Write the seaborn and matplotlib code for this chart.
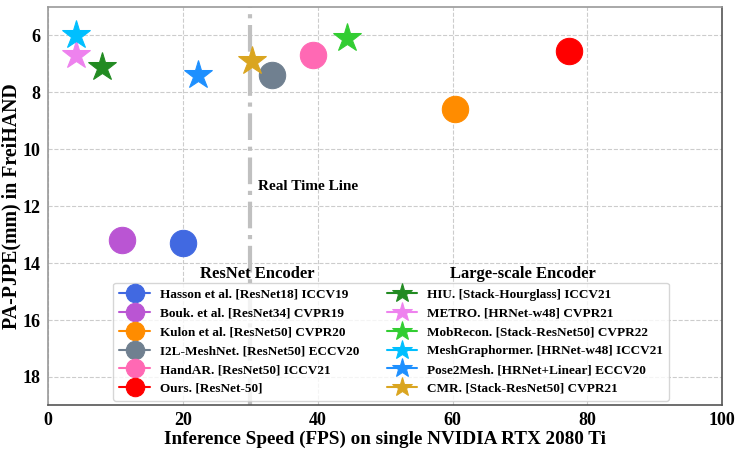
import matplotlib
matplotlib.use("Agg")
import matplotlib.pyplot as plt
import seaborn as sns

names = ["Hasson et al. [ResNet18] ICCV19", "Bouk. et al. [ResNet34] CVPR19",
         "Kulon et al. [ResNet50] CVPR20", "I2L-MeshNet. [ResNet50] ECCV20",
         "HandAR. [ResNet50] ICCV21", "Ours. [ResNet-50]",
         "HIU. [Stack-Hourglass] ICCV21", "METRO. [HRNet-w48] CVPR21",
         "MobRecon. [Stack-ResNet50] CVPR22", "MeshGraphormer. [HRNet-w48] ICCV21",
         "Pose2Mesh. [HRNet+Linear] ECCV20", "CMR. [Stack-ResNet50] CVPR21"]
fps = [20, 11, 60.4, 33.2, 39.3, 77.3, 8, 4.2, 44.3, 4.2, 22.3, 30.3]
pa_pjpe = [13.3, 13.2, 8.6, 7.4, 6.7, 6.55, 7.1, 6.7, 6.1, 6.0, 7.4, 6.9]
colors = ["royalblue", "mediumorchid", "darkorange", "slategray", "hotpink", "red",
          "forestgreen", "violet", "limegreen", "deepskyblue", "dodgerblue", "goldenrod"]
markers = ["o"] * 6 + ["*"] * 6

sns.set_style("whitegrid")
plt.rcParams['font.family'] = ['Liberation Serif', 'DejaVu Serif']
plt.rcParams['font.weight'] = 'bold'
plt.rcParams['text.color'] = 'black'
plt.rcParams['axes.labelcolor'] = 'black'
plt.rcParams['xtick.color'] = 'black'
plt.rcParams['ytick.color'] = 'black'

fig, ax = plt.subplots(figsize=(7.47, 4.53), dpi=100)
fig.subplots_adjust(left=0.064, right=0.967, top=0.985, bottom=0.105)

for n, x, y, c, m in zip(names, fps, pa_pjpe, colors, markers):
    ms = 19 if m == "o" else 21
    sns.lineplot(x=[x], y=[y], marker=m, markersize=ms, color=c, label=n,
                 markeredgecolor=c, ax=ax)

ax.axvline(30, color="silver", linestyle="-.", linewidth=3, zorder=1)
ax.text(31.2, 11.3, "Real Time Line", fontsize=11, fontweight="bold", va="center")
ax.text(31, 14.4, "ResNet Encoder", fontsize=12, fontweight="bold", ha="center", va="center")
ax.text(70.5, 14.4, "Large-scale Encoder", fontsize=12, fontweight="bold", ha="center", va="center")

ax.set_xlim(0, 100)
ax.set_ylim(19, 5)
ax.set_xticks([0, 20, 40, 60, 80, 100])
ax.set_yticks([6, 8, 10, 12, 14, 16, 18])
for lbl in ax.get_xticklabels() + ax.get_yticklabels():
    lbl.set_fontweight("bold")
    lbl.set_fontsize(13)
ax.grid(True, linestyle="--", color="#cccccc", linewidth=0.8)
ax.set_xlabel("Inference Speed (FPS) on single NVIDIA RTX 2080 Ti", fontsize=13.8, fontweight="bold", labelpad=1)
ax.set_ylabel("PA-PJPE(mm) in FreiHAND", fontsize=14.3, fontweight="bold", labelpad=1)
for s in ax.spines.values():
    s.set_color("#999999")
    s.set_linewidth(1.2)
ax.spines["right"].set_color("#555555")
ax.spines["bottom"].set_color("#555555")
ax.tick_params(axis="both", length=3, width=0.8, color="#999999", pad=2)

leg = ax.legend(loc="lower center", bbox_to_anchor=(0.509, 0.005), ncol=2,
                prop={"family": "Liberation Serif", "weight": "bold", "size": 9.5},
                markerscale=0.7, labelspacing=0.5, columnspacing=2.1,
                handlelength=2.3, handletextpad=0.75, frameon=True, borderpad=0.45,
                borderaxespad=0.2)
leg.get_frame().set_edgecolor("#cccccc")

fig.savefig("out.png", dpi=100)
